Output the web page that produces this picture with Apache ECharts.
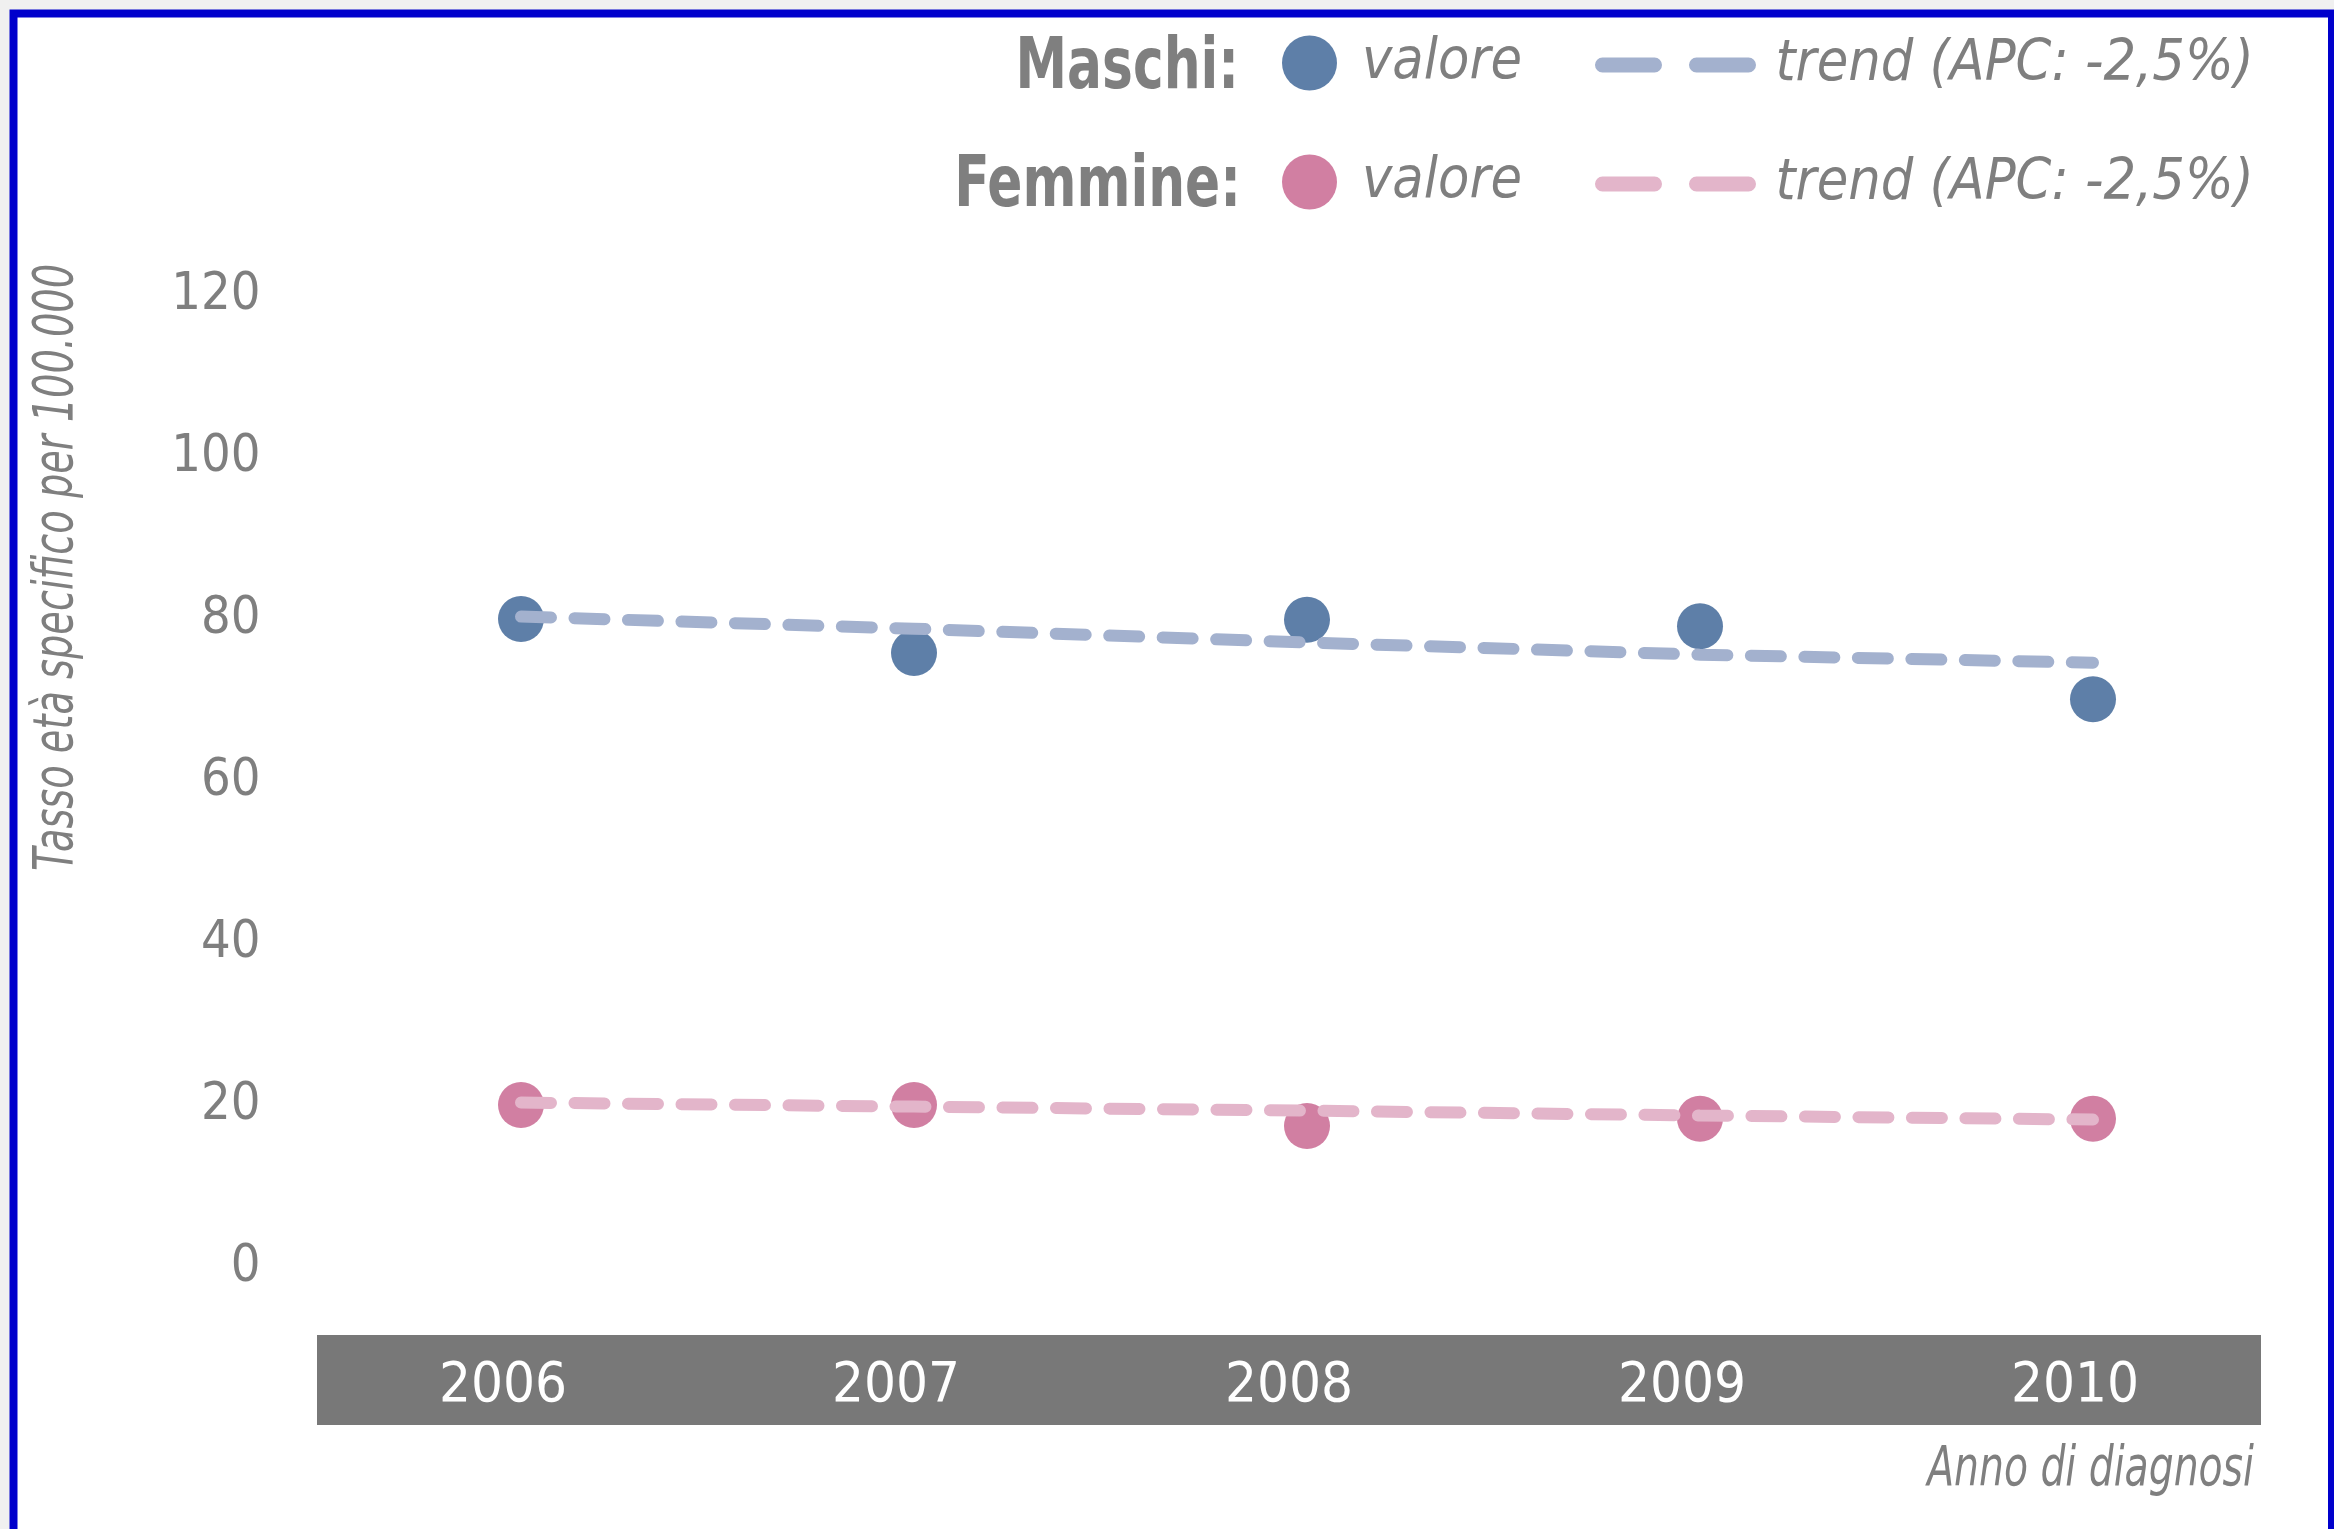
<!DOCTYPE html>
<html>
<head>
<meta charset="utf-8">
<title>Tasso età specifico per 100.000</title>
<script src="https://cdn.jsdelivr.net/npm/echarts@6/dist/echarts.min.js"></script>
<style>
    html, body { margin: 0; padding: 0; background: #f0f0f0; }
    #chart { width: 2334px; height: 1529px; }
</style>
</head>
<body>
<div id="chart"></div>
<script>
// dati
const anni = ['2006', '2007', '2008', '2009', '2010'];
const maschiValore = [80.0, 75.8, 79.9, 79.1, 70.1];
const maschiTrend = [80.3, 78.8, 77.1, 75.6, 74.6];
const femmineValore = [20.0, 20.0, 17.4, 18.3, 18.3];
const femmineTrend = [20.3, 19.8, 19.3, 18.7, 18.2];
const yMin = 0;
const yMax = 120;
const yStep = 20;
const apcMaschi = '-2,5%';
const apcFemmine = '-2,5%';

const FONT = "'Liberation Sans Narrow', 'DejaVu Sans Condensed', sans-serif";
const GRIGIO = '#7f7f7f';
const BLU = '#5e7fa8';
const BLU_TREND = '#a3b1ce';
const ROSA = '#d17fa2';
const ROSA_TREND = '#e3b5ca';

const chart = echarts.init(document.getElementById('chart'));

const trendLine = color => ({
    color: color,
    width: 12,
    type: [30, 23.5],
    cap: 'round'
});

// testo libero, compresso in orizzontale per imitare il font condensato
const testo = (text, x, y, extra) => ({
    type: 'text',
    z: 1,
    silent: true,
    x: x,
    y: y,
    scaleX: extra.scaleX,
    rotation: extra.rotation || 0,
    style: {
        text: text,
        fontFamily: FONT,
        fontStyle: extra.fontStyle || 'normal',
        fontWeight: extra.fontWeight || 'normal',
        fontSize: extra.fontSize,
        fill: GRIGIO,
        align: 'right',
        verticalAlign: 'middle'
    }
});

const legendText = {
    fontFamily: FONT,
    fontStyle: 'italic',
    fontSize: 57,
    lineHeight: 55,
    color: GRIGIO,
    padding: [0, 0, 0, 20]
};

const option = {
    animation: false,
    backgroundColor: '#f0f0f0',
    textStyle: { fontFamily: FONT },
    grid: {
        left: 324.5,
        right: 44.5,
        top: 295,
        bottom: 262,
        containLabel: false,
        outerBoundsMode: 'none'
    },
    graphic: [
        {
            type: 'rect',
            z: 0,
            silent: true,
            shape: { x: 13.5, y: 13.5, width: 2318.5, height: 1600 },
            style: { fill: '#ffffff', stroke: '#0000cc', lineWidth: 8 }
        },
        {
            type: 'rect',
            z: 1,
            silent: true,
            shape: { x: 317, y: 1335, width: 1944, height: 90 },
            style: { fill: '#787878' }
        },
        testo('Tasso età specifico per 100.000', 57, 264,
            { rotation: Math.PI / 2, scaleX: 0.76, fontSize: 56, fontStyle: 'italic' }),
        testo('Anno di diagnosi', 2254, 1470,
            { scaleX: 0.78, fontSize: 56, fontStyle: 'italic' }),
        testo('Maschi:', 1239, 69,
            { scaleX: 0.8, fontSize: 72, fontWeight: 'bold' }),
        testo('Femmine:', 1241, 187,
            { scaleX: 0.8, fontSize: 72, fontWeight: 'bold' })
    ],
    legend: [
        {
            data: ['Maschi valore', 'Femmine valore'],
            orient: 'vertical',
            left: 1282,
            top: 34.5,
            padding: 0,
            itemWidth: 55,
            itemHeight: 55,
            itemGap: 62,
            selectedMode: false,
            formatter: () => 'valore',
            textStyle: legendText
        },
        {
            data: ['Maschi trend', 'Femmine trend'],
            orient: 'vertical',
            left: 1595,
            top: 36.5,
            padding: 0,
            itemWidth: 148,
            itemHeight: 55,
            itemGap: 62,
            selectedMode: false,
            itemStyle: { opacity: 0 },
            lineStyle: { width: 15, type: [52, 42], cap: 'round' },
            formatter: name => name === 'Maschi trend'
                ? 'trend (APC: ' + apcMaschi + ')'
                : 'trend (APC: ' + apcFemmine + ')',
            textStyle: legendText
        }
    ],
    xAxis: {
        type: 'category',
        data: anni,
        boundaryGap: true,
        z: 5,
        axisLine: { show: false },
        axisTick: { show: false },
        splitLine: { show: false },
        axisLabel: {
            color: '#ffffff',
            fontFamily: FONT,
            fontSize: 56,
            lineHeight: 56,
            margin: 91,
            padding: [0, 36, 0, 0]
        }
    },
    yAxis: {
        type: 'value',
        min: yMin,
        max: yMax,
        interval: yStep,
        axisLine: { show: false },
        axisTick: { show: false },
        splitLine: { show: false },
        axisLabel: {
            color: GRIGIO,
            fontFamily: FONT,
            fontSize: 52,
            margin: 64,
            padding: [15, 0, 0, 0]
        }
    },
    series: [
        {
            name: 'Maschi trend',
            type: 'line',
            data: maschiTrend,
            symbol: 'none',
            silent: true,
            color: BLU_TREND,
            lineStyle: trendLine(BLU_TREND),
            emphasis: { disabled: true }
        },
        {
            name: 'Femmine trend',
            type: 'line',
            data: femmineTrend,
            symbol: 'none',
            silent: true,
            color: ROSA_TREND,
            lineStyle: trendLine(ROSA_TREND),
            emphasis: { disabled: true }
        },
        {
            name: 'Maschi valore',
            type: 'scatter',
            data: maschiValore,
            symbol: 'circle',
            symbolSize: 46,
            silent: true,
            itemStyle: { color: BLU, opacity: 1 },
            emphasis: { disabled: true }
        },
        {
            name: 'Femmine valore',
            type: 'scatter',
            data: femmineValore,
            symbol: 'circle',
            symbolSize: 46,
            silent: true,
            itemStyle: { color: ROSA, opacity: 1 },
            emphasis: { disabled: true }
        }
    ]
};

chart.setOption(option);
window.addEventListener('resize', chart.resize);
</script>
</body>
</html>
